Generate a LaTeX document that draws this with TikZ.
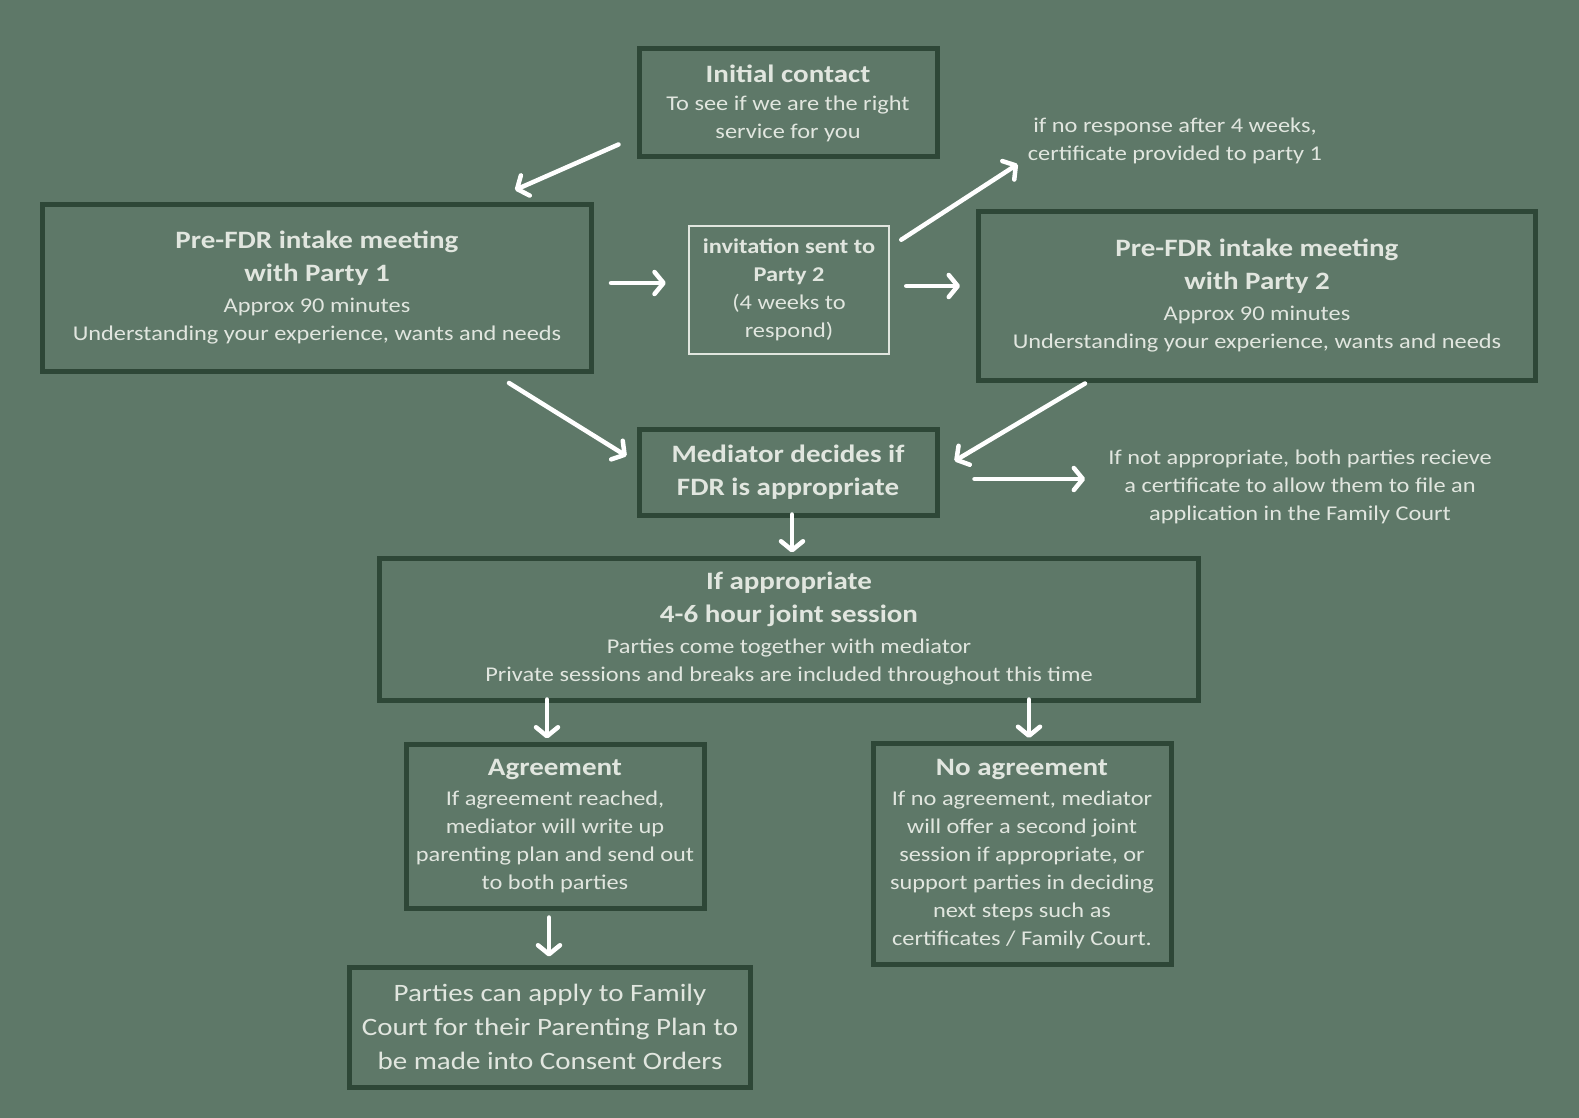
\documentclass[tikz,border=0pt]{standalone}
\usepackage{fontspec}
\setmainfont{Carlito}[FakeStretch=1.16]
\usetikzlibrary{arrows.meta}
\definecolor{sage}{RGB}{94,120,104}
\definecolor{pine}{RGB}{46,71,55}
\definecolor{chalk}{RGB}{225,230,223}
\newcommand{\boxhead}[1]{{\fontsize{25}{33}\selectfont\bfseries #1}}

\begin{document}
\begin{tikzpicture}
          [x=1pt,y=-1pt,
           every node/.style={text=chalk,align=center,inner sep=0pt,font=\fontsize{21}{28}\selectfont},
           stage/.style={draw=pine,line width=5pt},
           invite/.style={draw=chalk,line width=2.5pt},
           arr/.style={draw=white,line width=4.5pt,line cap=round,-{Straight Barb[round,length=9pt,width=22pt]}}]

          \fill[sage] (0,0) rectangle (1579,1118);

          \node[stage,minimum width=298,minimum height=108] (init) at (788,103) {\boxhead{Initial contact}\\To see if we are the right\\service for you};
          \node[stage,minimum width=549,minimum height=167] (p1) at (317,288) {\boxhead{Pre-FDR intake meeting}\\[5pt]\boxhead{with Party 1}\\[3pt]Approx 90 minutes\\Understanding your experience, wants and needs};
          \node[invite,minimum width=200,minimum height=128] (inv) at (789,290) {{\fontsize{21}{28}\selectfont\bfseries invitation sent to}\\{\bfseries Party 2}\\(4 weeks to\\respond)};
          \node[stage,minimum width=557,minimum height=168] (p2) at (1257,296) {\boxhead{Pre-FDR intake meeting}\\[5pt]\boxhead{with Party 2}\\[3pt]Approx 90 minutes\\Understanding your experience, wants and needs};
          \node (noresp) at (1175,141) {if no response after 4 weeks,\\certificate provided to party 1};
          \node[stage,minimum width=298,minimum height=86] (med) at (788,472) {\boxhead{Mediator decides if}\\[5pt]\boxhead{FDR is appropriate}};
          \node (notapp) at (1300,487) {If not appropriate, both parties recieve\\a certificate to allow them to file an\\application in the Family Court};
          \node[stage,minimum width=819,minimum height=142] (joint) at (789,629) {\boxhead{If appropriate}\\[5pt]\boxhead{4-6 hour joint session}\\[3pt]Parties come together with mediator\\Private sessions and breaks are included throughout this time};
          \node[stage,minimum width=298,minimum height=164] (agr) at (555,826) {\boxhead{Agreement}\\[2pt]If agreement reached,\\mediator will write up\\parenting plan and send out\\to both parties};
          \node[stage,minimum width=298,minimum height=221] (noagr) at (1022,854) {\boxhead{No agreement}\\[2pt]If no agreement, mediator\\will offer a second joint\\session if appropriate, or\\support parties in deciding\\next steps such as\\certificates / Family Court.};
          \node[stage,minimum width=401,minimum height=120,font=\fontsize{25}{34}\selectfont] (consent) at (550,1027) {Parties can apply to Family\\Court for their Parenting Plan to\\be made into Consent Orders};

          \draw[arr] ([shift={(-18,-15)}]init.south west) -- ([shift={(-79,-12)}]p1.north east);
          \draw[arr] ([shift={(17,-5)}]p1.east) -- ([shift={(-22,-7)}]inv.west);
          \draw[arr] ([shift={(11,15)}]inv.north east) -- ([shift={(-10,0)}]noresp.south west);
          \draw[arr] ([shift={(16,-4)}]inv.east) -- ([shift={(-16,-10)}]p2.west);
          \draw[arr] ([shift={(-85,9)}]p1.south east) -- ([shift={(-10,-16)}]med.west);
          \draw[arr] ([shift={(109,1)}]p2.south west) -- ([shift={(15,-11)}]med.east);
          \draw[arr] ([shift={(35,7)}]med.east) -- ([shift={(-23,-8)}]notapp.west);
          \draw[arr] ([shift={(4,-3)}]med.south) -- ([shift={(3,-3)}]joint.north);
          \draw[arr] ([shift={(170,-3)}]joint.south west) -- ([shift={(-8,-3)}]agr.north);
          \draw[arr] ([shift={(-172,-3)}]joint.south east) -- ([shift={(7,-3)}]noagr.north);
          \draw[arr] ([shift={(-6,7)}]agr.south) -- ([shift={(-1,-8)}]consent.north);
        \end{tikzpicture}
\end{document}
